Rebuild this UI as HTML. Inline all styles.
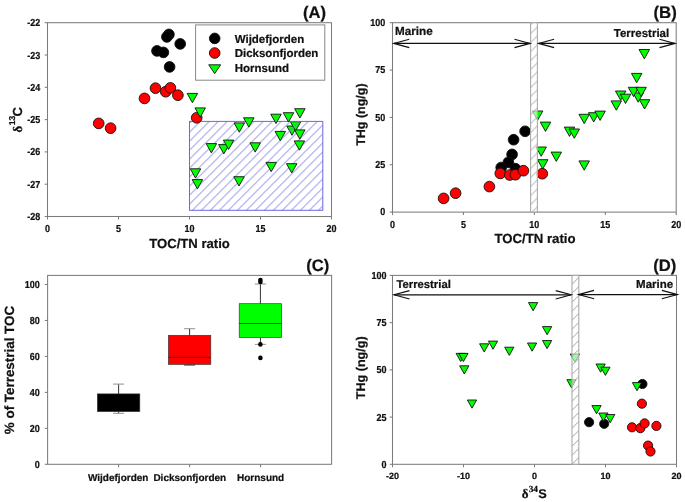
<!DOCTYPE html>
<html><head><meta charset="utf-8"><title>Figure</title>
<style>html,body{margin:0;padding:0;background:#fff;}svg{display:block;filter:blur(0.3px);}text{fill:#111;stroke:#111;stroke-width:0.22px;text-rendering:geometricPrecision;}</style>
</head><body>
<svg width="685" height="502" viewBox="0 0 685 502" font-family='"Liberation Sans", sans-serif'>
<defs>
<pattern id="hA" patternUnits="userSpaceOnUse" x="192.45" y="201.3" width="9" height="9"><path d="M-1 10L10 -1M-1 1L1 -1M8 10L10 8" stroke="#7a7ae0" stroke-width="1" shape-rendering="crispEdges"/></pattern>
<pattern id="hB" patternUnits="userSpaceOnUse" x="530.6" y="177.6" width="9" height="9"><path d="M-1 10L10 -1M-1 1L1 -1M8 10L10 8" stroke="#999" stroke-width="0.9"/></pattern>
<pattern id="hD" patternUnits="userSpaceOnUse" x="572.1" y="428.2" width="9" height="9"><path d="M-1 10L10 -1M-1 1L1 -1M8 10L10 8" stroke="#999" stroke-width="0.9"/></pattern>
</defs>
<rect width="685" height="502" fill="#fff"/>
<rect x="47.5" y="22.7" width="284" height="193.8" fill="none" stroke="#7c7c7c" stroke-width="1.05"/>
<line x1="44.7" y1="22.7" x2="47.5" y2="22.7" stroke="#7c7c7c" stroke-width="1.05"/>
<text transform="translate(40.2 26.21) scale(1 1.13)" font-size="9.0" font-weight="bold" text-anchor="end" font-family='"Liberation Sans", sans-serif'>-22</text>
<line x1="44.7" y1="55" x2="47.5" y2="55" stroke="#7c7c7c" stroke-width="1.05"/>
<text transform="translate(40.2 58.51) scale(1 1.13)" font-size="9.0" font-weight="bold" text-anchor="end" font-family='"Liberation Sans", sans-serif'>-23</text>
<line x1="44.7" y1="87.3" x2="47.5" y2="87.3" stroke="#7c7c7c" stroke-width="1.05"/>
<text transform="translate(40.2 90.81) scale(1 1.13)" font-size="9.0" font-weight="bold" text-anchor="end" font-family='"Liberation Sans", sans-serif'>-24</text>
<line x1="44.7" y1="119.6" x2="47.5" y2="119.6" stroke="#7c7c7c" stroke-width="1.05"/>
<text transform="translate(40.2 123.11) scale(1 1.13)" font-size="9.0" font-weight="bold" text-anchor="end" font-family='"Liberation Sans", sans-serif'>-25</text>
<line x1="44.7" y1="151.9" x2="47.5" y2="151.9" stroke="#7c7c7c" stroke-width="1.05"/>
<text transform="translate(40.2 155.41) scale(1 1.13)" font-size="9.0" font-weight="bold" text-anchor="end" font-family='"Liberation Sans", sans-serif'>-26</text>
<line x1="44.7" y1="184.2" x2="47.5" y2="184.2" stroke="#7c7c7c" stroke-width="1.05"/>
<text transform="translate(40.2 187.71) scale(1 1.13)" font-size="9.0" font-weight="bold" text-anchor="end" font-family='"Liberation Sans", sans-serif'>-27</text>
<line x1="44.7" y1="216.5" x2="47.5" y2="216.5" stroke="#7c7c7c" stroke-width="1.05"/>
<text transform="translate(40.2 220.01) scale(1 1.13)" font-size="9.0" font-weight="bold" text-anchor="end" font-family='"Liberation Sans", sans-serif'>-28</text>
<line x1="47.5" y1="216.5" x2="47.5" y2="219.5" stroke="#7c7c7c" stroke-width="1.05"/>
<text transform="translate(47.5 232.2) scale(1 1.13)" font-size="9.0" font-weight="bold" text-anchor="middle" font-family='"Liberation Sans", sans-serif'>0</text>
<line x1="118.5" y1="216.5" x2="118.5" y2="219.5" stroke="#7c7c7c" stroke-width="1.05"/>
<text transform="translate(118.5 232.2) scale(1 1.13)" font-size="9.0" font-weight="bold" text-anchor="middle" font-family='"Liberation Sans", sans-serif'>5</text>
<line x1="189.5" y1="216.5" x2="189.5" y2="219.5" stroke="#7c7c7c" stroke-width="1.05"/>
<text transform="translate(189.5 232.2) scale(1 1.13)" font-size="9.0" font-weight="bold" text-anchor="middle" font-family='"Liberation Sans", sans-serif'>10</text>
<line x1="260.5" y1="216.5" x2="260.5" y2="219.5" stroke="#7c7c7c" stroke-width="1.05"/>
<text transform="translate(260.5 232.2) scale(1 1.13)" font-size="9.0" font-weight="bold" text-anchor="middle" font-family='"Liberation Sans", sans-serif'>15</text>
<line x1="331.5" y1="216.5" x2="331.5" y2="219.5" stroke="#7c7c7c" stroke-width="1.05"/>
<text transform="translate(331.5 232.2) scale(1 1.13)" font-size="9.0" font-weight="bold" text-anchor="middle" font-family='"Liberation Sans", sans-serif'>20</text>
<text x="189.6" y="247.6" font-size="13.1" font-weight="bold" text-anchor="middle" font-family='"Liberation Sans", sans-serif' >TOC/TN ratio</text>
<g transform="translate(21.5 132.6) rotate(-90)"><text x="0" y="0" font-family='"Liberation Serif", serif' font-weight="bold" font-size="13">δ</text><text x="7.3" y="-6.8" font-family='"Liberation Sans", sans-serif' font-weight="bold" font-size="8.6">13</text><text x="16.2" y="0" font-family='"Liberation Sans", sans-serif' font-weight="bold" font-size="13.1">C</text></g>
<text x="326" y="18.3" font-size="16.6" font-weight="bold" text-anchor="end" font-family='"Liberation Sans", sans-serif' >(A)</text>
<path d="M286.75 126H297.25L292 135.3Z" fill="#00ff00" stroke="#111" stroke-width="0.9" stroke-linejoin="miter"/>
<path d="M290.35 121.7H300.85L295.6 131Z" fill="#00ff00" stroke="#111" stroke-width="0.9" stroke-linejoin="miter"/>
<rect x="189.5" y="121.4" width="133.3" height="88.9" fill="url(#hA)" stroke="#6a6ae0" stroke-width="1"/>
<circle cx="168.9" cy="34.4" r="5.35" fill="#000" stroke="#111" stroke-width="0.9"/>
<circle cx="166.9" cy="36.9" r="5.35" fill="#000" stroke="#111" stroke-width="0.9"/>
<circle cx="180.2" cy="43.9" r="5.35" fill="#000" stroke="#111" stroke-width="0.9"/>
<circle cx="157" cy="50.9" r="5.35" fill="#000" stroke="#111" stroke-width="0.9"/>
<circle cx="163.4" cy="52.4" r="5.35" fill="#000" stroke="#111" stroke-width="0.9"/>
<circle cx="169.6" cy="66.9" r="5.35" fill="#000" stroke="#111" stroke-width="0.9"/>
<circle cx="98.7" cy="123.4" r="5.35" fill="#ff0000" stroke="#111" stroke-width="0.9"/>
<circle cx="110.6" cy="128.2" r="5.35" fill="#ff0000" stroke="#111" stroke-width="0.9"/>
<circle cx="144.5" cy="98.4" r="5.35" fill="#ff0000" stroke="#111" stroke-width="0.9"/>
<circle cx="155.5" cy="88.2" r="5.35" fill="#ff0000" stroke="#111" stroke-width="0.9"/>
<circle cx="165.7" cy="91.7" r="5.35" fill="#ff0000" stroke="#111" stroke-width="0.9"/>
<circle cx="170.4" cy="87.9" r="5.35" fill="#ff0000" stroke="#111" stroke-width="0.9"/>
<circle cx="177.9" cy="95.2" r="5.35" fill="#ff0000" stroke="#111" stroke-width="0.9"/>
<circle cx="196.7" cy="117.8" r="5.35" fill="#ff0000" stroke="#111" stroke-width="0.9"/>
<path d="M187.15 93.4H197.65L192.4 102.7Z" fill="#00ff00" stroke="#111" stroke-width="0.9" stroke-linejoin="miter"/>
<path d="M194.95 107.9H205.45L200.2 117.2Z" fill="#00ff00" stroke="#111" stroke-width="0.9" stroke-linejoin="miter"/>
<path d="M234.05 122.9H244.55L239.3 132.2Z" fill="#00ff00" stroke="#111" stroke-width="0.9" stroke-linejoin="miter"/>
<path d="M243.55 117.8H254.05L248.8 127.1Z" fill="#00ff00" stroke="#111" stroke-width="0.9" stroke-linejoin="miter"/>
<path d="M206.15 143.6H216.65L211.4 152.9Z" fill="#00ff00" stroke="#111" stroke-width="0.9" stroke-linejoin="miter"/>
<path d="M218.55 144.6H229.05L223.8 153.9Z" fill="#00ff00" stroke="#111" stroke-width="0.9" stroke-linejoin="miter"/>
<path d="M223.35 140.1H233.85L228.6 149.4Z" fill="#00ff00" stroke="#111" stroke-width="0.9" stroke-linejoin="miter"/>
<path d="M249.95 142.8H260.45L255.2 152.1Z" fill="#00ff00" stroke="#111" stroke-width="0.9" stroke-linejoin="miter"/>
<path d="M190.25 168.8H200.75L195.5 178.1Z" fill="#00ff00" stroke="#111" stroke-width="0.9" stroke-linejoin="miter"/>
<path d="M192.15 179.6H202.65L197.4 188.9Z" fill="#00ff00" stroke="#111" stroke-width="0.9" stroke-linejoin="miter"/>
<path d="M233.75 176.7H244.25L239 186Z" fill="#00ff00" stroke="#111" stroke-width="0.9" stroke-linejoin="miter"/>
<path d="M270.75 114.2H281.25L276 123.5Z" fill="#00ff00" stroke="#111" stroke-width="0.9" stroke-linejoin="miter"/>
<path d="M283.25 112.7H293.75L288.5 122Z" fill="#00ff00" stroke="#111" stroke-width="0.9" stroke-linejoin="miter"/>
<path d="M294.65 108.7H305.15L299.9 118Z" fill="#00ff00" stroke="#111" stroke-width="0.9" stroke-linejoin="miter"/>
<path d="M294.55 129.9H305.05L299.8 139.2Z" fill="#00ff00" stroke="#111" stroke-width="0.9" stroke-linejoin="miter"/>
<path d="M275.05 131.4H285.55L280.3 140.7Z" fill="#00ff00" stroke="#111" stroke-width="0.9" stroke-linejoin="miter"/>
<path d="M294.15 140.9H304.65L299.4 150.2Z" fill="#00ff00" stroke="#111" stroke-width="0.9" stroke-linejoin="miter"/>
<path d="M265.95 162.4H276.45L271.2 171.7Z" fill="#00ff00" stroke="#111" stroke-width="0.9" stroke-linejoin="miter"/>
<path d="M286.45 163.7H296.95L291.7 173Z" fill="#00ff00" stroke="#111" stroke-width="0.9" stroke-linejoin="miter"/>
<rect x="195.6" y="24.9" width="129.2" height="55.3" fill="#fff" stroke="#888" stroke-width="1"/>
<circle cx="214.7" cy="38.4" r="5.3" fill="#000" stroke="#111" stroke-width="0.9"/>
<circle cx="214.7" cy="53" r="5.3" fill="#ff0000" stroke="#111" stroke-width="0.9"/>
<path d="M208.7 64.8H220.7L214.7 73.6Z" fill="#00ff00" stroke="#111" stroke-width="0.9"/>
<text x="234.7" y="42.8" font-size="11.5" font-weight="bold" text-anchor="start" font-family='"Liberation Sans", sans-serif' >Wijdefjorden</text>
<text x="234.7" y="57.1" font-size="11.5" font-weight="bold" text-anchor="start" font-family='"Liberation Sans", sans-serif' >Dicksonfjorden</text>
<text x="234.7" y="71.9" font-size="11.5" font-weight="bold" text-anchor="start" font-family='"Liberation Sans", sans-serif' >Hornsund</text>
<rect x="392.5" y="22.7" width="283.7" height="189.4" fill="none" stroke="#7c7c7c" stroke-width="1.05"/>
<line x1="389.7" y1="212.1" x2="392.5" y2="212.1" stroke="#7c7c7c" stroke-width="1.05"/>
<text transform="translate(385.2 215.21) scale(1 1.13)" font-size="9.0" font-weight="bold" text-anchor="end" font-family='"Liberation Sans", sans-serif'>0</text>
<line x1="389.7" y1="164.75" x2="392.5" y2="164.75" stroke="#7c7c7c" stroke-width="1.05"/>
<text transform="translate(385.2 167.86) scale(1 1.13)" font-size="9.0" font-weight="bold" text-anchor="end" font-family='"Liberation Sans", sans-serif'>25</text>
<line x1="389.7" y1="117.4" x2="392.5" y2="117.4" stroke="#7c7c7c" stroke-width="1.05"/>
<text transform="translate(385.2 120.51) scale(1 1.13)" font-size="9.0" font-weight="bold" text-anchor="end" font-family='"Liberation Sans", sans-serif'>50</text>
<line x1="389.7" y1="70.05" x2="392.5" y2="70.05" stroke="#7c7c7c" stroke-width="1.05"/>
<text transform="translate(385.2 73.16) scale(1 1.13)" font-size="9.0" font-weight="bold" text-anchor="end" font-family='"Liberation Sans", sans-serif'>75</text>
<line x1="389.7" y1="22.7" x2="392.5" y2="22.7" stroke="#7c7c7c" stroke-width="1.05"/>
<text transform="translate(385.2 25.81) scale(1 1.13)" font-size="9.0" font-weight="bold" text-anchor="end" font-family='"Liberation Sans", sans-serif'>100</text>
<line x1="392.5" y1="212.1" x2="392.5" y2="215.1" stroke="#7c7c7c" stroke-width="1.05"/>
<text transform="translate(392.5 227.6) scale(1 1.13)" font-size="9.0" font-weight="bold" text-anchor="middle" font-family='"Liberation Sans", sans-serif'>0</text>
<line x1="463.43" y1="212.1" x2="463.43" y2="215.1" stroke="#7c7c7c" stroke-width="1.05"/>
<text transform="translate(463.43 227.6) scale(1 1.13)" font-size="9.0" font-weight="bold" text-anchor="middle" font-family='"Liberation Sans", sans-serif'>5</text>
<line x1="534.36" y1="212.1" x2="534.36" y2="215.1" stroke="#7c7c7c" stroke-width="1.05"/>
<text transform="translate(534.36 227.6) scale(1 1.13)" font-size="9.0" font-weight="bold" text-anchor="middle" font-family='"Liberation Sans", sans-serif'>10</text>
<line x1="605.29" y1="212.1" x2="605.29" y2="215.1" stroke="#7c7c7c" stroke-width="1.05"/>
<text transform="translate(605.29 227.6) scale(1 1.13)" font-size="9.0" font-weight="bold" text-anchor="middle" font-family='"Liberation Sans", sans-serif'>15</text>
<line x1="676.22" y1="212.1" x2="676.22" y2="215.1" stroke="#7c7c7c" stroke-width="1.05"/>
<text transform="translate(676.22 227.6) scale(1 1.13)" font-size="9.0" font-weight="bold" text-anchor="middle" font-family='"Liberation Sans", sans-serif'>20</text>
<text x="535" y="243" font-size="13.2" font-weight="bold" text-anchor="middle" font-family='"Liberation Sans", sans-serif' >TOC/TN ratio</text>
<text transform="translate(364.6 114.6) rotate(-90)" text-anchor="middle" font-family='"Liberation Sans", sans-serif' font-weight="bold" font-size="12.5">THg (ng/g)</text>
<text x="676.8" y="18.4" font-size="16.8" font-weight="bold" text-anchor="end" font-family='"Liberation Sans", sans-serif' >(B)</text>
<circle cx="525.1" cy="131.3" r="5.35" fill="#000" stroke="#111" stroke-width="0.9"/>
<circle cx="513.6" cy="139.7" r="5.35" fill="#000" stroke="#111" stroke-width="0.9"/>
<circle cx="512.1" cy="154.4" r="5.35" fill="#000" stroke="#111" stroke-width="0.9"/>
<circle cx="508.4" cy="162.3" r="5.35" fill="#000" stroke="#111" stroke-width="0.9"/>
<circle cx="501.2" cy="167.5" r="5.35" fill="#000" stroke="#111" stroke-width="0.9"/>
<circle cx="515.5" cy="168.7" r="5.35" fill="#000" stroke="#111" stroke-width="0.9"/>
<circle cx="443.6" cy="198.4" r="5.35" fill="#ff0000" stroke="#111" stroke-width="0.9"/>
<circle cx="455.6" cy="193.2" r="5.35" fill="#ff0000" stroke="#111" stroke-width="0.9"/>
<circle cx="489.4" cy="186.6" r="5.35" fill="#ff0000" stroke="#111" stroke-width="0.9"/>
<circle cx="500.3" cy="173.4" r="5.35" fill="#ff0000" stroke="#111" stroke-width="0.9"/>
<circle cx="509.8" cy="175" r="5.35" fill="#ff0000" stroke="#111" stroke-width="0.9"/>
<circle cx="515.4" cy="174.7" r="5.35" fill="#ff0000" stroke="#111" stroke-width="0.9"/>
<circle cx="523.4" cy="170.7" r="5.35" fill="#ff0000" stroke="#111" stroke-width="0.9"/>
<circle cx="542.3" cy="173.7" r="5.35" fill="#ff0000" stroke="#111" stroke-width="0.9"/>
<path d="M532.35 111H542.85L537.6 120.3Z" fill="#00ff00" stroke="#111" stroke-width="0.9" stroke-linejoin="miter"/>
<path d="M540.25 122.1H550.75L545.5 131.4Z" fill="#00ff00" stroke="#111" stroke-width="0.9" stroke-linejoin="miter"/>
<path d="M578.95 114.3H589.45L584.2 123.6Z" fill="#00ff00" stroke="#111" stroke-width="0.9" stroke-linejoin="miter"/>
<path d="M588.45 112.7H598.95L593.7 122Z" fill="#00ff00" stroke="#111" stroke-width="0.9" stroke-linejoin="miter"/>
<path d="M594.85 111.1H605.35L600.1 120.4Z" fill="#00ff00" stroke="#111" stroke-width="0.9" stroke-linejoin="miter"/>
<path d="M564.25 127.1H574.75L569.5 136.4Z" fill="#00ff00" stroke="#111" stroke-width="0.9" stroke-linejoin="miter"/>
<path d="M569.05 129H579.55L574.3 138.3Z" fill="#00ff00" stroke="#111" stroke-width="0.9" stroke-linejoin="miter"/>
<path d="M535.95 147H546.45L541.2 156.3Z" fill="#00ff00" stroke="#111" stroke-width="0.9" stroke-linejoin="miter"/>
<path d="M551.05 152.1H561.55L556.3 161.4Z" fill="#00ff00" stroke="#111" stroke-width="0.9" stroke-linejoin="miter"/>
<path d="M537.45 159.7H547.95L542.7 169Z" fill="#00ff00" stroke="#111" stroke-width="0.9" stroke-linejoin="miter"/>
<path d="M578.95 160.9H589.45L584.2 170.2Z" fill="#00ff00" stroke="#111" stroke-width="0.9" stroke-linejoin="miter"/>
<path d="M639.05 49.5H649.55L644.3 58.8Z" fill="#00ff00" stroke="#111" stroke-width="0.9" stroke-linejoin="miter"/>
<path d="M631.45 73.4H641.95L636.7 82.7Z" fill="#00ff00" stroke="#111" stroke-width="0.9" stroke-linejoin="miter"/>
<path d="M615.45 91H625.95L620.7 100.3Z" fill="#00ff00" stroke="#111" stroke-width="0.9" stroke-linejoin="miter"/>
<path d="M620.25 94.2H630.75L625.5 103.5Z" fill="#00ff00" stroke="#111" stroke-width="0.9" stroke-linejoin="miter"/>
<path d="M632.95 92.9H643.45L638.2 102.2Z" fill="#00ff00" stroke="#111" stroke-width="0.9" stroke-linejoin="miter"/>
<path d="M628.25 87.3H638.75L633.5 96.6Z" fill="#00ff00" stroke="#111" stroke-width="0.9" stroke-linejoin="miter"/>
<path d="M635.85 87.3H646.35L641.1 96.6Z" fill="#00ff00" stroke="#111" stroke-width="0.9" stroke-linejoin="miter"/>
<path d="M639.35 99.7H649.85L644.6 109Z" fill="#00ff00" stroke="#111" stroke-width="0.9" stroke-linejoin="miter"/>
<path d="M611.05 100.9H621.55L616.3 110.2Z" fill="#00ff00" stroke="#111" stroke-width="0.9" stroke-linejoin="miter"/>
<rect x="530.6" y="22.7" width="6.8" height="189.4" fill="#fff" fill-opacity="0.6"/>
<rect x="530.6" y="22.7" width="6.8" height="189.4" fill="url(#hB)" stroke="#aaa" stroke-width="1.1"/>
<line x1="393.8" y1="43.4" x2="530" y2="43.4" stroke="#111" stroke-width="1.2"/>
<path d="M409.3 39.2L393.8 43.4L409.3 47.6" fill="none" stroke="#111" stroke-width="1.15" stroke-linejoin="miter" stroke-miterlimit="20"/>
<path d="M514.5 39.2L530 43.4L514.5 47.6" fill="none" stroke="#111" stroke-width="1.15" stroke-linejoin="miter" stroke-miterlimit="20"/>
<line x1="538.6" y1="43.4" x2="675" y2="43.4" stroke="#111" stroke-width="1.2"/>
<path d="M554.1 39.2L538.6 43.4L554.1 47.6" fill="none" stroke="#111" stroke-width="1.15" stroke-linejoin="miter" stroke-miterlimit="20"/>
<path d="M659.5 39.2L675 43.4L659.5 47.6" fill="none" stroke="#111" stroke-width="1.15" stroke-linejoin="miter" stroke-miterlimit="20"/>
<text x="395" y="35" font-size="11.7" font-weight="bold" text-anchor="start" font-family='"Liberation Sans", sans-serif' >Marine</text>
<text x="669.2" y="36.7" font-size="11.5" font-weight="bold" text-anchor="end" font-family='"Liberation Sans", sans-serif' >Terrestrial</text>
<rect x="47.6" y="275.4" width="284" height="188.9" fill="none" stroke="#7c7c7c" stroke-width="1.05"/>
<line x1="44.8" y1="464.3" x2="47.6" y2="464.3" stroke="#7c7c7c" stroke-width="1.05"/>
<text transform="translate(39.8 467.81) scale(1 1.13)" font-size="9.0" font-weight="bold" text-anchor="end" font-family='"Liberation Sans", sans-serif'>0</text>
<line x1="44.8" y1="428.34" x2="47.6" y2="428.34" stroke="#7c7c7c" stroke-width="1.05"/>
<text transform="translate(39.8 431.85) scale(1 1.13)" font-size="9.0" font-weight="bold" text-anchor="end" font-family='"Liberation Sans", sans-serif'>20</text>
<line x1="44.8" y1="392.38" x2="47.6" y2="392.38" stroke="#7c7c7c" stroke-width="1.05"/>
<text transform="translate(39.8 395.89) scale(1 1.13)" font-size="9.0" font-weight="bold" text-anchor="end" font-family='"Liberation Sans", sans-serif'>40</text>
<line x1="44.8" y1="356.42" x2="47.6" y2="356.42" stroke="#7c7c7c" stroke-width="1.05"/>
<text transform="translate(39.8 359.93) scale(1 1.13)" font-size="9.0" font-weight="bold" text-anchor="end" font-family='"Liberation Sans", sans-serif'>60</text>
<line x1="44.8" y1="320.46" x2="47.6" y2="320.46" stroke="#7c7c7c" stroke-width="1.05"/>
<text transform="translate(39.8 323.97) scale(1 1.13)" font-size="9.0" font-weight="bold" text-anchor="end" font-family='"Liberation Sans", sans-serif'>80</text>
<line x1="44.8" y1="284.5" x2="47.6" y2="284.5" stroke="#7c7c7c" stroke-width="1.05"/>
<text transform="translate(39.8 288.01) scale(1 1.13)" font-size="9.0" font-weight="bold" text-anchor="end" font-family='"Liberation Sans", sans-serif'>100</text>
<line x1="118.6" y1="464.3" x2="118.6" y2="467.3" stroke="#7c7c7c" stroke-width="1.05"/>
<line x1="189.6" y1="464.3" x2="189.6" y2="467.3" stroke="#7c7c7c" stroke-width="1.05"/>
<line x1="260.6" y1="464.3" x2="260.6" y2="467.3" stroke="#7c7c7c" stroke-width="1.05"/>
<text x="118.2" y="481.4" font-size="10" font-weight="bold" text-anchor="middle" font-family='"Liberation Sans", sans-serif' >Wijdefjorden</text>
<text x="189.8" y="481.4" font-size="10" font-weight="bold" text-anchor="middle" font-family='"Liberation Sans", sans-serif' >Dicksonfjorden</text>
<text x="260.6" y="481.4" font-size="10" font-weight="bold" text-anchor="middle" font-family='"Liberation Sans", sans-serif' >Hornsund</text>
<text transform="translate(14.4 370) rotate(-90)" text-anchor="middle" font-family='"Liberation Sans", sans-serif' font-weight="bold" font-size="13.4">% of Terrestrial TOC</text>
<text x="329.4" y="270.7" font-size="16.6" font-weight="bold" text-anchor="end" font-family='"Liberation Sans", sans-serif' >(C)</text>
<line x1="118.6" y1="384.1" x2="118.6" y2="393.9" stroke="#333" stroke-width="1"/>
<line x1="118.6" y1="411.6" x2="118.6" y2="413.3" stroke="#333" stroke-width="1"/>
<line x1="113.1" y1="384.1" x2="124.1" y2="384.1" stroke="#999" stroke-width="1.1"/>
<line x1="113.1" y1="413.3" x2="124.1" y2="413.3" stroke="#999" stroke-width="1.1"/>
<rect x="97.4" y="393.9" width="42.4" height="17.7" fill="#000" stroke="#333" stroke-width="0.65"/>
<line x1="189.6" y1="328.7" x2="189.6" y2="335.3" stroke="#333" stroke-width="1"/>
<line x1="189.6" y1="364.4" x2="189.6" y2="365" stroke="#333" stroke-width="1"/>
<line x1="184.1" y1="328.7" x2="195.1" y2="328.7" stroke="#999" stroke-width="1.1"/>
<line x1="184.1" y1="365" x2="195.1" y2="365" stroke="#333" stroke-width="1.1"/>
<rect x="168.4" y="335.3" width="42.4" height="29.1" fill="#ff0000" stroke="#333" stroke-width="0.65"/>
<line x1="168.4" y1="357.4" x2="210.8" y2="357.4" stroke="#2a2a2a" stroke-width="0.85"/>
<line x1="260.4" y1="284" x2="260.4" y2="303.7" stroke="#333" stroke-width="1"/>
<line x1="260.4" y1="337.5" x2="260.4" y2="344.4" stroke="#333" stroke-width="1"/>
<line x1="254.9" y1="284" x2="265.9" y2="284" stroke="#999" stroke-width="1.1"/>
<line x1="254.9" y1="344.4" x2="265.9" y2="344.4" stroke="#999" stroke-width="1.1"/>
<rect x="239.2" y="303.7" width="42.4" height="33.8" fill="#00ff00" stroke="#333" stroke-width="0.65"/>
<line x1="239.2" y1="323.5" x2="281.6" y2="323.5" stroke="#2a2a2a" stroke-width="0.85"/>
<circle cx="260.4" cy="280.0" r="2.3" fill="#000"/>
<circle cx="260.4" cy="282.0" r="2.3" fill="#000"/>
<circle cx="260.4" cy="344.4" r="2.3" fill="#000"/>
<circle cx="260.4" cy="357.9" r="2.3" fill="#000"/>
<rect x="392.5" y="275.4" width="284" height="188.9" fill="none" stroke="#7c7c7c" stroke-width="1.05"/>
<line x1="389.7" y1="464.3" x2="392.5" y2="464.3" stroke="#7c7c7c" stroke-width="1.05"/>
<text transform="translate(386.5 467.81) scale(1 1.13)" font-size="9.0" font-weight="bold" text-anchor="end" font-family='"Liberation Sans", sans-serif'>0</text>
<line x1="389.7" y1="417.07" x2="392.5" y2="417.07" stroke="#7c7c7c" stroke-width="1.05"/>
<text transform="translate(386.5 420.58) scale(1 1.13)" font-size="9.0" font-weight="bold" text-anchor="end" font-family='"Liberation Sans", sans-serif'>25</text>
<line x1="389.7" y1="369.85" x2="392.5" y2="369.85" stroke="#7c7c7c" stroke-width="1.05"/>
<text transform="translate(386.5 373.36) scale(1 1.13)" font-size="9.0" font-weight="bold" text-anchor="end" font-family='"Liberation Sans", sans-serif'>50</text>
<line x1="389.7" y1="322.62" x2="392.5" y2="322.62" stroke="#7c7c7c" stroke-width="1.05"/>
<text transform="translate(386.5 326.13) scale(1 1.13)" font-size="9.0" font-weight="bold" text-anchor="end" font-family='"Liberation Sans", sans-serif'>75</text>
<line x1="389.7" y1="275.4" x2="392.5" y2="275.4" stroke="#7c7c7c" stroke-width="1.05"/>
<text transform="translate(386.5 278.91) scale(1 1.13)" font-size="9.0" font-weight="bold" text-anchor="end" font-family='"Liberation Sans", sans-serif'>100</text>
<line x1="392.5" y1="464.3" x2="392.5" y2="467.3" stroke="#7c7c7c" stroke-width="1.05"/>
<text transform="translate(392.5 479) scale(1 1.0)" font-size="9.0" font-weight="bold" text-anchor="middle" font-family='"Liberation Sans", sans-serif'>-20</text>
<line x1="463.5" y1="464.3" x2="463.5" y2="467.3" stroke="#7c7c7c" stroke-width="1.05"/>
<text transform="translate(463.5 479) scale(1 1.0)" font-size="9.0" font-weight="bold" text-anchor="middle" font-family='"Liberation Sans", sans-serif'>-10</text>
<line x1="534.5" y1="464.3" x2="534.5" y2="467.3" stroke="#7c7c7c" stroke-width="1.05"/>
<text transform="translate(534.5 479) scale(1 1.0)" font-size="9.0" font-weight="bold" text-anchor="middle" font-family='"Liberation Sans", sans-serif'>0</text>
<line x1="605.5" y1="464.3" x2="605.5" y2="467.3" stroke="#7c7c7c" stroke-width="1.05"/>
<text transform="translate(605.5 479) scale(1 1.0)" font-size="9.0" font-weight="bold" text-anchor="middle" font-family='"Liberation Sans", sans-serif'>10</text>
<line x1="676.5" y1="464.3" x2="676.5" y2="467.3" stroke="#7c7c7c" stroke-width="1.05"/>
<text transform="translate(676.5 479) scale(1 1.0)" font-size="9.0" font-weight="bold" text-anchor="middle" font-family='"Liberation Sans", sans-serif'>20</text>
<text x="521.8" y="497.8" font-family='"Liberation Serif", serif' font-weight="bold" font-size="13">δ</text><text x="528.7" y="491.7" font-family='"Liberation Serif", serif' font-weight="bold" font-size="9.3">34</text><text x="538.3" y="497.8" font-family='"Liberation Sans", sans-serif' font-weight="bold" font-size="12.7">S</text>
<text transform="translate(365.2 367.8) rotate(-90)" text-anchor="middle" font-family='"Liberation Sans", sans-serif' font-weight="bold" font-size="12.6">THg (ng/g)</text>
<text x="676.2" y="270.8" font-size="16.6" font-weight="bold" text-anchor="end" font-family='"Liberation Sans", sans-serif' >(D)</text>
<circle cx="589.1" cy="422.2" r="4.6" fill="#000" stroke="#111" stroke-width="0.9"/>
<circle cx="604.2" cy="423.8" r="4.6" fill="#000" stroke="#111" stroke-width="0.9"/>
<circle cx="642.4" cy="384" r="4.6" fill="#000" stroke="#111" stroke-width="0.9"/>
<path d="M528.48 302.6H537.72L533.1 310.78Z" fill="#00ff00" stroke="#111" stroke-width="0.9" stroke-linejoin="miter"/>
<path d="M542.48 326.6H551.72L547.1 334.78Z" fill="#00ff00" stroke="#111" stroke-width="0.9" stroke-linejoin="miter"/>
<path d="M542.48 340.5H551.72L547.1 348.68Z" fill="#00ff00" stroke="#111" stroke-width="0.9" stroke-linejoin="miter"/>
<path d="M527.48 343H536.72L532.1 351.18Z" fill="#00ff00" stroke="#111" stroke-width="0.9" stroke-linejoin="miter"/>
<path d="M504.68 347.2H513.92L509.3 355.38Z" fill="#00ff00" stroke="#111" stroke-width="0.9" stroke-linejoin="miter"/>
<path d="M488.38 341.1H497.62L493 349.28Z" fill="#00ff00" stroke="#111" stroke-width="0.9" stroke-linejoin="miter"/>
<path d="M479.58 343.8H488.82L484.2 351.98Z" fill="#00ff00" stroke="#111" stroke-width="0.9" stroke-linejoin="miter"/>
<path d="M456.08 353.4H465.32L460.7 361.58Z" fill="#00ff00" stroke="#111" stroke-width="0.9" stroke-linejoin="miter"/>
<path d="M458.78 353.4H468.02L463.4 361.58Z" fill="#00ff00" stroke="#111" stroke-width="0.9" stroke-linejoin="miter"/>
<path d="M459.68 365.8H468.92L464.3 373.98Z" fill="#00ff00" stroke="#111" stroke-width="0.9" stroke-linejoin="miter"/>
<path d="M467.38 400H476.62L472 408.18Z" fill="#00ff00" stroke="#111" stroke-width="0.9" stroke-linejoin="miter"/>
<path d="M570.28 354H579.52L574.9 362.18Z" fill="#00ff00" stroke="#111" stroke-width="0.9" stroke-linejoin="miter"/>
<path d="M566.88 379.7H576.12L571.5 387.88Z" fill="#00ff00" stroke="#111" stroke-width="0.9" stroke-linejoin="miter"/>
<path d="M595.98 364H605.22L600.6 372.18Z" fill="#00ff00" stroke="#111" stroke-width="0.9" stroke-linejoin="miter"/>
<path d="M600.78 367.2H610.02L605.4 375.38Z" fill="#00ff00" stroke="#111" stroke-width="0.9" stroke-linejoin="miter"/>
<path d="M591.88 405.6H601.12L596.5 413.78Z" fill="#00ff00" stroke="#111" stroke-width="0.9" stroke-linejoin="miter"/>
<path d="M598.78 413H608.02L603.4 421.18Z" fill="#00ff00" stroke="#111" stroke-width="0.9" stroke-linejoin="miter"/>
<path d="M605.58 414.5H614.82L610.2 422.68Z" fill="#00ff00" stroke="#111" stroke-width="0.9" stroke-linejoin="miter"/>
<path d="M632.38 382.6H641.62L637 390.78Z" fill="#00ff00" stroke="#111" stroke-width="0.9" stroke-linejoin="miter"/>
<circle cx="641.9" cy="403.7" r="4.6" fill="#ff0000" stroke="#111" stroke-width="0.9"/>
<circle cx="632" cy="427.3" r="4.6" fill="#ff0000" stroke="#111" stroke-width="0.9"/>
<circle cx="640.3" cy="428.2" r="4.6" fill="#ff0000" stroke="#111" stroke-width="0.9"/>
<circle cx="644.6" cy="423.4" r="4.6" fill="#ff0000" stroke="#111" stroke-width="0.9"/>
<circle cx="656.4" cy="425.9" r="4.6" fill="#ff0000" stroke="#111" stroke-width="0.9"/>
<circle cx="648.1" cy="445.6" r="4.6" fill="#ff0000" stroke="#111" stroke-width="0.9"/>
<circle cx="650.5" cy="451.5" r="4.6" fill="#ff0000" stroke="#111" stroke-width="0.9"/>
<rect x="572" y="275.4" width="6.8" height="188.9" fill="#fff" fill-opacity="0.6"/>
<rect x="572" y="275.4" width="6.8" height="188.9" fill="url(#hD)" stroke="#aaa" stroke-width="1.1"/>
<line x1="394" y1="294.8" x2="571.2" y2="294.8" stroke="#111" stroke-width="1.2"/>
<path d="M409.5 290.6L394 294.8L409.5 299" fill="none" stroke="#111" stroke-width="1.15" stroke-linejoin="miter" stroke-miterlimit="20"/>
<path d="M555.7 290.6L571.2 294.8L555.7 299" fill="none" stroke="#111" stroke-width="1.15" stroke-linejoin="miter" stroke-miterlimit="20"/>
<line x1="578.5" y1="294.6" x2="677.4" y2="294.6" stroke="#111" stroke-width="1.2"/>
<path d="M594 290.4L578.5 294.6L594 298.8" fill="none" stroke="#111" stroke-width="1.15" stroke-linejoin="miter" stroke-miterlimit="20"/>
<path d="M661.9 290.4L677.4 294.6L661.9 298.8" fill="none" stroke="#111" stroke-width="1.15" stroke-linejoin="miter" stroke-miterlimit="20"/>
<text x="396.4" y="288.1" font-size="11.3" font-weight="bold" text-anchor="start" font-family='"Liberation Sans", sans-serif' >Terrestrial</text>
<text x="673.2" y="287.5" font-size="11.5" font-weight="bold" text-anchor="end" font-family='"Liberation Sans", sans-serif' >Marine</text>
</svg>
</body></html>
